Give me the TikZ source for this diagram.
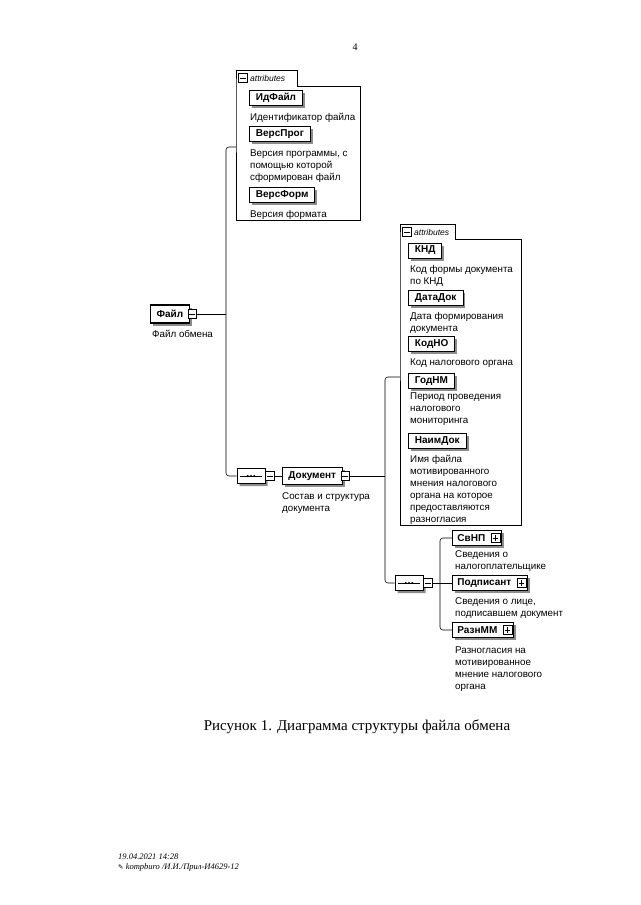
\documentclass[tikz,border=0pt]{standalone}
\usepackage{fontspec}
\setmainfont{Liberation Serif}
\setsansfont{Liberation Sans}
\newfontfamily\symfont{DejaVu Sans}
\usetikzlibrary{positioning, shadows, shapes.misc}

\begin{document}
\begin{tikzpicture}[
  x=1pt, y=-1pt,
  elem/.style={
    rectangle,
    draw=black,
    line width=0.9pt,
    fill=white,
    minimum height=15pt,
    inner xsep=#1,
    inner ysep=0pt,
    anchor=west,
    font=\sffamily\bfseries\fontsize{10}{12}\selectfont,
    drop shadow={shadow xshift=2.5pt, shadow yshift=-2.5pt, fill=black!45, opacity=1}
  },
  elem/.default=6.5pt,
  desc/.style={
    anchor=north west,
    inner sep=0pt,
    align=left,
    font=\sffamily\fontsize{9.8}{12}\selectfont
  },
  icon/.style={
    rectangle,
    draw=black,
    line width=0.6pt,
    fill=white,
    minimum size=8.5pt,
    inner sep=0pt
  },
  minus/.style={
    icon,
    path picture={
      \draw ([xshift=1.5pt]path picture bounding box.west) -- ([xshift=-1.5pt]path picture bounding box.east);
    }
  },
  plus/.style={
    icon,
    path picture={
      \draw ([xshift=1.5pt]path picture bounding box.west) -- ([xshift=-1.5pt]path picture bounding box.east);
      \draw ([yshift=-1.5pt]path picture bounding box.north) -- ([yshift=1.5pt]path picture bounding box.south);
    }
  },
  seqbox/.style={
    chamfered rectangle,
    chamfered rectangle sep=4.5pt,
    draw=black,
    line width=0.8pt,
    fill=white,
    minimum width=28pt,
    minimum height=15pt,
    inner sep=0pt,
    drop shadow={shadow xshift=2.5pt, shadow yshift=-2.5pt, fill=black!45, opacity=1}
  },
  group/.style={
    rectangle,
    draw=none,
    anchor=north west,
    inner sep=0pt
  },
  tabtext/.style={
    anchor=west,
    inner sep=0pt,
    font=\sffamily\itshape\fontsize{8.5}{10}\selectfont
  },
  link/.style={
    draw=black,
    line width=0.6pt,
    rounded corners=3pt
  }
]
\useasboundingbox (0,0) rectangle (640,905);

% Page number
\node[font=\fontsize{10}{12}\selectfont] (pagenum) at (355,47) {4};

% Attributes of Файл
\node[group, minimum width=124pt, minimum height=134pt] (grp1) at (236,86) {};
\draw[line width=0.6pt] (grp1.south west) -- (grp1.north west) -- ++(0,-16) -- ++(61,0) -- ++(0,16) -- (grp1.north east) -- (grp1.south east) -- cycle;
\node[minus] (tab1m) at (243,78) {};
\node[tabtext] (tab1) at (250,78) {attributes};

\node[elem] (idfile) at (249,97.5) {ИдФайл};
\node[desc] (idfiled) at (250,113.5) {Идентификатор файла};
\node[elem] (versprog) at (249,134) {ВерсПрог};
\node[desc] (versprogd) at (250,150) {Версия программы, с\\помощью которой\\сформирован файл};
\node[elem] (versform) at (249,195) {ВерсФорм};
\node[desc] (versformd) at (250,210) {Версия формата};

% Root element
\node[elem=6pt, minimum height=18pt, line width=1.1pt] (file) at (150,314) {Файл};
\node[minus, right=-2pt of file] (filem) {};
\node[desc] (filed) at (152,330) {Файл обмена};

% Sequence and Документ
\node[seqbox] (seq1) at (251,476) {};
\draw[line width=0.7pt] ([xshift=3pt]seq1.west) -- ([xshift=-3pt]seq1.east);
\foreach \dx in {-3.2,0,3.2} \fill ([xshift=\dx pt]seq1.center) circle (1.2pt);
\node[minus, right=0pt of seq1] (seq1m) {};

\node[elem=6pt, minimum height=17pt] (doc) at (282,476) {Документ};
\node[minus, right=-2pt of doc] (docm) {};
\node[desc] (docd) at (282,492) {Состав и структура\\документа};

% Attributes of Документ
\node[group, minimum width=121pt, minimum height=286pt] (grp2) at (400,239) {};
\draw[line width=0.6pt] (grp2.south west) -- (grp2.north west) -- ++(0,-15) -- ++(55,0) -- ++(0,15) -- (grp2.north east) -- (grp2.south east) -- cycle;
\node[minus] (tab2m) at (407,232) {};
\node[tabtext] (tab2) at (414,232) {attributes};

\node[elem] (knd) at (408,250.5) {КНД};
\node[desc] (kndd) at (410,265) {Код формы документа\\по КНД};
\node[elem] (datadok) at (408,298) {ДатаДок};
\node[desc] (datadokd) at (410,312) {Дата формирования\\документа};
\node[elem] (kodno) at (408,343.5) {КодНО};
\node[desc] (kodnod) at (410,359) {Код налогового органа};
\node[elem] (godnm) at (408,381) {ГодНМ};
\node[desc] (godnmd) at (410,393) {Период проведения\\налогового\\мониторинга};
\node[elem] (naimdok) at (408,441) {НаимДок};
\node[desc] (naimdokd) at (410,455) {Имя файла\\мотивированного\\мнения налогового\\органа на которое\\предоставляются\\разногласия};

% Children of Документ
\node[seqbox] (seq2) at (409,583) {};
\draw[line width=0.7pt] ([xshift=3pt]seq2.west) -- ([xshift=-3pt]seq2.east);
\foreach \dx in {-3.2,0,3.2} \fill ([xshift=\dx pt]seq2.center) circle (1.2pt);
\node[minus, right=0pt of seq2] (seq2m) {};

\node[elem=5pt] (svnp) at (452,538) {СвНП\rule{11pt}{0pt}};
\node[plus, left=1.5pt of svnp.east] (svnpp) {};
\node[desc] (svnpd) at (455,550) {Сведения о\\налогоплательщике};
\node[elem=5pt] (podp) at (452,583) {Подписант\rule{11pt}{0pt}};
\node[plus, left=1.5pt of podp.east] (podpp) {};
\node[desc] (podpd) at (455,597) {Сведения о лице,\\подписавшем документ};
\node[elem=5pt] (raznmm) at (452,630) {РазнММ\rule{11pt}{0pt}};
\node[plus, left=1.5pt of raznmm.east] (raznmmp) {};
\node[desc] (raznmmd) at (455,647) {Разногласия на\\мотивированное\\мнение налогового\\органа};

% Connections
\coordinate (busA) at (226,147);
\coordinate (busB) at (385,377);
\coordinate (busC) at (440,583);
\draw[link] (filem.east) -- (filem.east -| busA);
\draw[link] (grp1.west |- busA) -- (busA) |- (seq1.west);
\draw[link] (seq1m.east) -- (doc.west);
\draw[link] (docm.east) -- (docm.east -| busB);
\draw[link] (grp2.west |- busB) -- (busB) |- (seq2.west);
\draw[link] (seq2m.east) -- (busC);
\draw[link] (svnp.west) -| (busC) |- (raznmm.west);
\draw[link] (busC) -- (podp.west);

% Caption and footer
\node[font=\fontsize{15}{18}\selectfont] (caption) at (357,727) {Рисунок 1. Диаграмма структуры файла обмена};
\node[anchor=north west, inner sep=0pt, align=left, font=\itshape\fontsize{8.5}{10}\selectfont] (footer) at (118,854) {19.04.2021 14:28\\{\symfont\upshape\fontsize{6.5}{10}\selectfont ✎} kompburo /И.И./Прил-И4629-12};
\end{tikzpicture}
\end{document}
